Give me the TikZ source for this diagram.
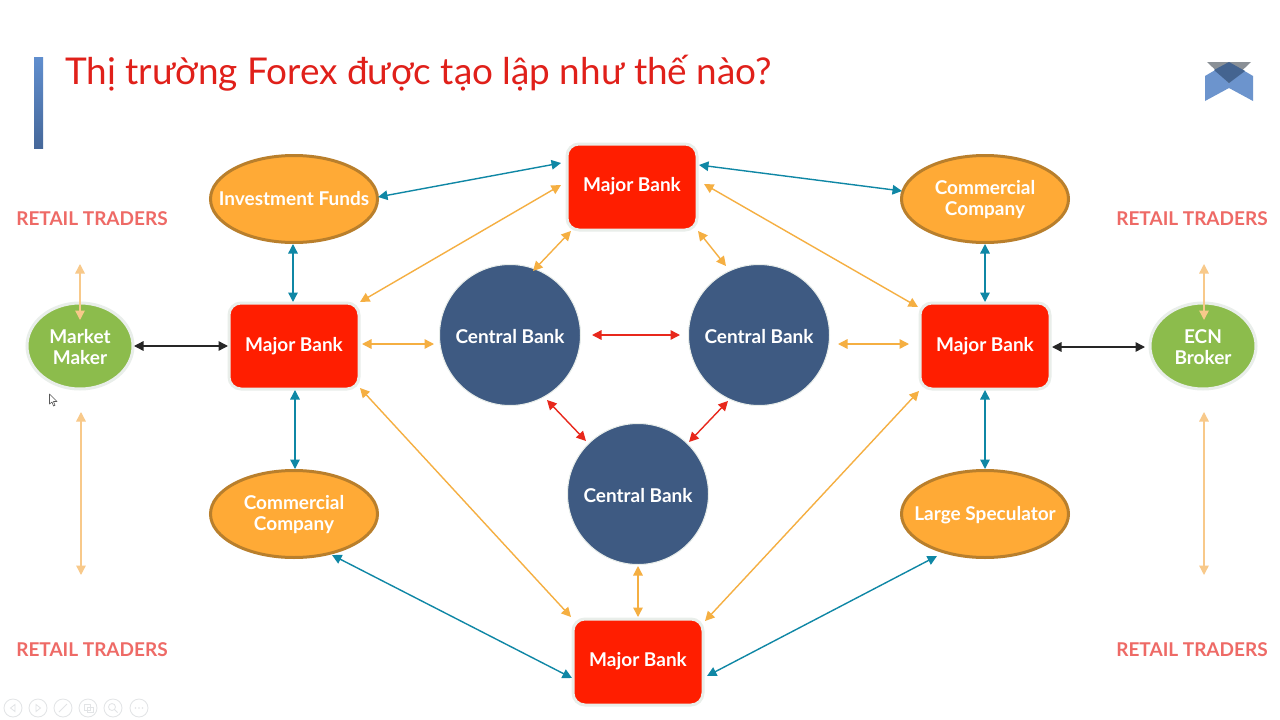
\documentclass[tikz,border=0pt]{standalone}
\usepackage{fontspec}
\setmainfont{Lato}
\usetikzlibrary{arrows.meta,shapes.geometric}
\definecolor{cteal}{HTML}{0F87A5}
\definecolor{corange}{HTML}{F5AF42}
\definecolor{cpale}{HTML}{F8C98A}
\definecolor{cred}{HTML}{E8281C}
\definecolor{cmajor}{HTML}{FF1E00}
\definecolor{cfund}{HTML}{FFAA36}
\definecolor{cfundb}{HTML}{B97F2C}
\definecolor{ccentral}{HTML}{3E5A82}
\definecolor{cgreen}{HTML}{8CBC4C}
\definecolor{chalo}{HTML}{E9EEEA}
\definecolor{cretail}{HTML}{EE6A66}
\definecolor{ctitle}{HTML}{E0201A}
\definecolor{cicon}{HTML}{E2E4E6}
\definecolor{bartop}{RGB}{96,142,206}
\definecolor{barbot}{RGB}{70,104,154}
\definecolor{logoblue}{RGB}{108,148,205}
\definecolor{logogray}{RGB}{138,144,150}
\definecolor{logodark}{RGB}{68,100,144}
\tikzset{
  lbl/.style={text=white,font=\fontsize{19}{21}\selectfont\bfseries,align=center,inner sep=0pt},
  majorbox/.style={lbl,rectangle,rounded corners=12pt,fill=cmajor,draw=chalo,line width=3pt,minimum width=130pt,minimum height=86pt},
  fundoval/.style={lbl,ellipse,inner xsep=-22pt,inner ysep=0pt,fill=cfund,draw=cfundb,line width=3pt,minimum width=167pt,minimum height=87pt},
  centralc/.style={lbl,circle,inner sep=-30pt,fill=ccentral,draw=chalo,line width=1pt,minimum size=141pt},
  greenoval/.style={lbl,ellipse,inner xsep=-4pt,inner ysep=0pt,fill=cgreen,draw=chalo,line width=3pt,minimum width=106pt,minimum height=86pt},
  retail/.style={text=cretail,font=\fontsize{19}{22}\selectfont\bfseries,inner sep=0pt},
  link/.style={line width=1.4pt,{Triangle[width=9.5pt,length=9.5pt]}-{Triangle[width=9.5pt,length=9.5pt]}},
  teal/.style={link,draw=cteal},
  amber/.style={link,draw=corange},
  redl/.style={link,draw=cred},
  blackl/.style={link,draw=black!85},
  pale/.style={link,draw=cpale},
  ctrl/.style={draw=cicon,line width=.8pt,fill=white},
}
\newcommand{\conn}[5]{\draw[#1] ([shift={(#3)}]#2.center) -- ([shift={(#5)}]#4.center);}
\newcommand{\onel}[2]{\raisebox{-#1pt}[0pt][0pt]{#2}}
\newcommand{\twol}[3]{\raisebox{-#1pt}[0pt][0pt]{\begin{tabular}[b]{@{}c@{}}#2\\#3\end{tabular}}}
\begin{document}
\begin{tikzpicture}[x=1pt,y=-1pt]
\useasboundingbox (0,0) rectangle (1280,720);
\fill[white] (0,0) rectangle (1280,720);
% title bar and title
\shade[top color=bartop,bottom color=barbot] (34,57) rectangle (43,148);
\node[anchor=west,inner sep=0pt,text=ctitle,font=\fontsize{36.9}{42}\selectfont] (title) at (65,73) {Thị trường Forex được tạo lập như thế nào?};
% logo
\fill[logoblue] (1205,76) -- (1229,62) -- (1253,76) -- (1253,101) -- (1229,88) -- (1205,101) -- cycle;
\fill[logogray] (1207,62) -- (1251,62) -- (1229,83) -- cycle;
\fill[logodark] (1229,62) -- (1245,71) -- (1229,83) -- (1214,70) -- cycle;
% nodes
\node[majorbox] (mbT) at (632,187) {\onel{4.4}{Major Bank}};
\node[majorbox] (mbL) at (294,346) {\onel{5.3}{Major Bank}};
\node[majorbox] (mbR) at (985,346) {\onel{5.3}{Major Bank}};
\node[majorbox] (mbB) at (638,662) {\onel{4.4}{Major Bank}};
\node[centralc] (cTL) at (510,335) {\onel{8.4}{Central Bank}};
\node[centralc] (cTR) at (759,335) {\onel{8.4}{Central Bank}};
\node[centralc] (cB) at (638,494) {\onel{8.4}{Central Bank}};
\node[fundoval] (inv) at (294,199) {\onel{6.9}{Investment Funds}};
\node[fundoval] (ccR) at (985,199) {\twol{16.8}{Commercial}{Company}};
\node[fundoval] (ccL) at (294,514) {\twol{16.8}{Commercial}{Company}};
\node[fundoval] (spec) at (985,514) {\onel{6}{Large Speculator}};
\node[greenoval] (mm) at (80,346) {\twol{18.8}{Market}{Maker}};
\node[greenoval] (ecn) at (1203,346) {\twol{18.8}{ECN}{Broker}};
\node[retail] (rTL) at (92,219) {RETAIL TRADERS};
\node[retail] (rBL) at (92,650) {RETAIL TRADERS};
\node[retail] (rTR) at (1192,219) {RETAIL TRADERS};
\node[retail] (rBR) at (1192,650) {RETAIL TRADERS};
% free ends
\coordinate (a1) at (80,264); \coordinate (a2) at (80,320);
\coordinate (a3) at (81,412); \coordinate (a4) at (81,575);
\coordinate (b1) at (1204,264); \coordinate (b2) at (1204,320);
\coordinate (b3) at (1204,412); \coordinate (b4) at (1204,575);
% connectors: teal
\conn{teal}{inv}{84,-2}{mbT}{-71,-24}
\conn{teal}{mbT}{67,-22}{ccR}{-83,-8}
\conn{teal}{inv}{-1,45}{mbL}{-1,-44}
\conn{teal}{ccR}{0,45}{mbR}{0,-44}
\conn{teal}{mbL}{1,44}{ccL}{1,-45}
\conn{teal}{mbR}{0,44}{spec}{0,-45}
\conn{teal}{ccL}{38,41}{mbB}{-66,16}
\conn{teal}{mbB}{69,14}{spec}{-48,42}
% connectors: amber
\conn{amber}{mbT}{-71,-2}{mbL}{66,-44}
\conn{amber}{mbT}{72,-3}{mbR}{-67,-39}
\conn{amber}{mbT}{-61,44}{cTL}{23,-64}
\conn{amber}{mbT}{66,44}{cTR}{-33,-69}
\conn{amber}{mbL}{68,-2}{cTL}{-76,9}
\conn{amber}{cTR}{79,9}{mbR}{-76,-2}
\conn{amber}{mbL}{66,42}{mbB}{-67,-45}
\conn{amber}{mbR}{-66,45}{mbB}{67,-41}
\conn{amber}{cB}{0,72}{mbB}{0,-45}
% connectors: red
\conn{redl}{cTL}{82,0}{cTR}{-79,0}
\conn{redl}{cTL}{37,65}{cB}{-52,-53}
\conn{redl}{cTR}{-31,66}{cB}{51,-52}
% connectors: black
\conn{blackl}{mm}{54,0}{mbL}{-66,0}
\conn{blackl}{mbR}{67,1}{ecn}{-58,1}
% connectors: pale
\draw[pale] (a1) -- (a2);
\draw[pale] (a3) -- (a4);
\draw[pale] (b1) -- (b2);
\draw[pale] (b3) -- (b4);
% slide controls
\foreach \cx in {13,38,63,88,113,139}{\draw[ctrl] (\cx,708) circle (9);}
\draw[cicon,line width=.8pt] (15,704.5) -- (10.5,708) -- (15,711.5) -- cycle;
\draw[cicon,line width=.8pt] (36,704.5) -- (40.5,708) -- (36,711.5) -- cycle;
\draw[cicon,line width=1pt] (59,712) -- (67,704);
\draw[cicon,line width=.8pt] (84,704) rectangle (90,710) (87,707) rectangle (93,712);
\draw[cicon,line width=.8pt] (112,707) circle (3.5) (114.5,709.5) -- (117.5,712.5);
\fill[cicon] (135.5,708) circle (.9) (139,708) circle (.9) (142.5,708) circle (.9);
% mouse pointer
\draw[black!65,fill=white,line width=.6pt,line join=round] (49.5,394) -- (49.5,404) -- (52,402) -- (53.5,406) -- (55,405.3) -- (53.5,401.5) -- (57,401.5) -- cycle;
\end{tikzpicture}
\end{document}
